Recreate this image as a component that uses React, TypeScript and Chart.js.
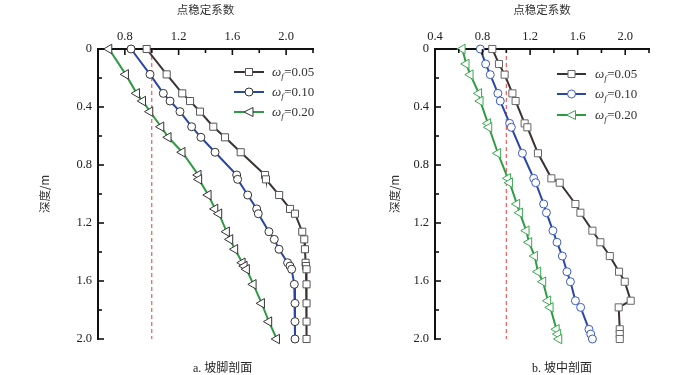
import React, { useEffect, useRef } from 'react';
import { Chart, registerables } from 'chart.js';

Chart.register(...registerables);

// ---------- data ----------
const seriesNames = ['0.05', '0.10', '0.20'];

// a. 坡脚剖面
const footDepth = [0, 0.175, 0.306, 0.359, 0.432, 0.536, 0.609, 0.712, 0.869, 0.899, 1.007, 1.103, 1.136, 1.26, 1.313, 1.381, 1.474, 1.497, 1.519, 1.623, 1.754, 1.88, 2.0];
const foot005 = [0.962, 1.111, 1.227, 1.285, 1.359, 1.458, 1.545, 1.662, 1.843, 1.85, 1.948, 2.029, 2.066, 2.12, 2.135, 2.14, 2.145, 2.148, 2.152, 2.152, 2.152, 2.152, 2.152];
const foot010 = [0.846, 0.987, 1.086, 1.136, 1.21, 1.297, 1.366, 1.471, 1.632, 1.639, 1.714, 1.781, 1.793, 1.872, 1.912, 1.947, 2.011, 2.029, 2.041, 2.061, 2.066, 2.066, 2.066];
const foot020 = [0.682, 0.806, 0.888, 0.933, 0.987, 1.069, 1.123, 1.227, 1.346, 1.351, 1.421, 1.471, 1.5, 1.557, 1.582, 1.619, 1.674, 1.689, 1.706, 1.756, 1.818, 1.872, 1.93];

// b. 坡中剖面
const midDepth = [0, 0.103, 0.177, 0.306, 0.359, 0.513, 0.54, 0.719, 0.892, 0.922, 1.069, 1.129, 1.253, 1.333, 1.428, 1.536, 1.605, 1.736, 1.782, 1.933, 1.966, 2.0];
const mid005 = [0.882, 0.938, 0.986, 1.051, 1.078, 1.154, 1.177, 1.266, 1.379, 1.449, 1.581, 1.623, 1.724, 1.791, 1.87, 1.948, 1.996, 2.046, 1.945, 1.954, 1.954, 1.954];
const mid010 = [0.781, 0.826, 0.865, 0.929, 0.949, 1.028, 1.042, 1.135, 1.23, 1.247, 1.314, 1.337, 1.392, 1.426, 1.471, 1.51, 1.539, 1.581, 1.625, 1.695, 1.71, 1.724];
const mid020 = [0.63, 0.663, 0.697, 0.769, 0.781, 0.845, 0.854, 0.929, 1.013, 1.028, 1.089, 1.112, 1.168, 1.19, 1.238, 1.266, 1.308, 1.35, 1.37, 1.421, 1.434, 1.443];

const criticalValue = [1.0];
const depthRange = [0, 2.0];
const xTitle = '点稳定系数';
const yTitle = '深度/m';
const captions = ['a. 坡脚剖面', 'b. 坡中剖面'];

// ---------- styles ----------
const LINE_COLORS = ['#3a3230', '#2a46a6', '#2f9c45'];
const REF_COLOR = '#ef5a5a';
const SERIF = "'Liberation Serif', 'Times New Roman', serif";
const CJK = "'Noto Sans CJK SC', sans-serif";

type PanelCfg = {
  depth: number[];
  values: number[][];
  xMin: number;
  xMax: number;
  padLeft: number;
  yWidth: number;
  padRight: number;
  markerBorders: string[];
  legend: { lineX0: number; lineX1: number; textX: number; rows: number[] };
};

function drawMarker(ctx: CanvasRenderingContext2D, kind: number, x: number, y: number, border: string) {
  ctx.save();
  ctx.fillStyle = '#fff';
  ctx.strokeStyle = border;
  ctx.lineWidth = 1;
  ctx.beginPath();
  if (kind === 0) {
    ctx.rect(x - 3.5, y - 3.5, 7, 7);
  } else if (kind === 1) {
    ctx.arc(x, y, 4, 0, Math.PI * 2);
  } else {
    ctx.moveTo(x - 5, y);
    ctx.lineTo(x + 4, y - 4.5);
    ctx.lineTo(x + 4, y + 4.5);
    ctx.closePath();
  }
  ctx.fill();
  ctx.stroke();
  ctx.restore();
}

const isMajor = (v: number) => Math.round(v * 10) % 4 === 0;

const inwardTicks = {
  id: 'inwardTicks',
  afterDraw(chart: any) {
    const ctx = chart.ctx as CanvasRenderingContext2D;
    const { left, top } = chart.chartArea;
    const xs = chart.scales.x;
    const ys = chart.scales.y;
    ctx.save();
    ctx.strokeStyle = '#111';
    ctx.lineWidth = 1.6;
    xs.ticks.forEach((t: any) => {
      const px = xs.getPixelForValue(t.value);
      if (px < left + 2) return;
      const len = isMajor(t.value) ? 6 : 4;
      ctx.beginPath();
      ctx.moveTo(px, top);
      ctx.lineTo(px, top + len);
      ctx.stroke();
    });
    ys.ticks.forEach((t: any) => {
      const py = ys.getPixelForValue(t.value);
      const len = isMajor(t.value) ? 6 : 4;
      ctx.beginPath();
      ctx.moveTo(left, py);
      ctx.lineTo(left + len, py);
      ctx.stroke();
    });
    ctx.restore();
  },
};

function legendPlugin(cfg: PanelCfg) {
  return {
    id: 'customLegend',
    afterDraw(chart: any) {
      const ctx = chart.ctx as CanvasRenderingContext2D;
      const L = cfg.legend;
      seriesNames.forEach((name, i) => {
        const y = L.rows[i];
        ctx.save();
        ctx.strokeStyle = LINE_COLORS[i];
        ctx.lineWidth = 2;
        ctx.beginPath();
        ctx.moveTo(L.lineX0, y);
        ctx.lineTo(L.lineX1, y);
        ctx.stroke();
        ctx.restore();
        drawMarker(ctx, i, (L.lineX0 + L.lineX1) / 2, y, cfg.markerBorders[i]);
        ctx.save();
        ctx.fillStyle = '#333';
        ctx.textBaseline = 'alphabetic';
        ctx.font = `italic 13px ${SERIF}`;
        let x = L.textX;
        ctx.fillText('ω', x, y + 4);
        x += ctx.measureText('ω').width;
        ctx.font = `italic 9px ${SERIF}`;
        ctx.fillText('f', x, y + 7);
        x += ctx.measureText('f').width + 0.5;
        ctx.font = `13px ${SERIF}`;
        ctx.fillText('=' + name, x, y + 4);
        ctx.restore();
      });
    },
  };
}

function buildConfig(cfg: PanelCfg): any {
  const pointStyles = ['rect', 'circle', 'triangle'];
  const radii = [5, 4, 5.5];
  const datasets: any[] = cfg.values.map((vals, i) => ({
    label: 'ωf=' + seriesNames[i],
    data: cfg.depth.map((d, j) => ({ x: vals[j], y: d })),
    borderColor: LINE_COLORS[i],
    borderWidth: 2,
    pointStyle: pointStyles[i],
    rotation: i === 2 ? -90 : 0,
    pointRadius: radii[i],
    pointBackgroundColor: '#fff',
    pointBorderColor: cfg.markerBorders[i],
    pointBorderWidth: 1,
    tension: 0,
    clip: false,
  }));
  datasets.push({
    label: 'Fs=1',
    data: depthRange.map((d) => ({ x: criticalValue[0], y: d })),
    borderColor: REF_COLOR,
    borderWidth: 1.2,
    borderDash: [4, 3],
    pointRadius: 0,
    clip: false,
  });

  return {
    type: 'line',
    data: { datasets },
    options: {
      responsive: false,
      animation: false,
      events: [],
      layout: { padding: { left: cfg.padLeft, top: 0, right: cfg.padRight, bottom: 36 } },
      plugins: { legend: { display: false }, tooltip: { enabled: false } },
      scales: {
        x: {
          type: 'linear',
          position: 'top',
          min: cfg.xMin,
          max: cfg.xMax,
          grid: { display: false, drawTicks: false },
          border: { display: true, color: '#111', width: 2 },
          ticks: {
            stepSize: 0.2,
            autoSkip: false,
            maxRotation: 0,
            padding: 5,
            color: '#222',
            font: { family: SERIF, size: 12.5 },
            callback: (v: number) => (isMajor(v) ? v.toFixed(1) : ''),
          },
          title: {
            display: true,
            text: xTitle,
            color: '#333',
            font: { family: CJK, size: 11.5 },
            padding: { top: 3, bottom: 0 },
          },
          afterFit: (s: any) => {
            s.height = 49;
          },
        },
        y: {
          type: 'linear',
          reverse: true,
          min: depthRange[0],
          max: depthRange[1],
          grid: { display: false, drawTicks: false },
          border: { display: true, color: '#111', width: 2 },
          ticks: {
            stepSize: 0.2,
            autoSkip: false,
            padding: 6,
            color: '#222',
            font: { family: SERIF, size: 12.5 },
            callback: (v: number) => (isMajor(v) ? (Math.abs(v) < 1e-9 ? '0' : v.toFixed(1)) : ''),
          },
          title: {
            display: true,
            text: yTitle,
            color: '#333',
            font: { family: CJK, size: 11.5 },
            padding: { top: 4, bottom: 0 },
          },
          afterFit: (s: any) => {
            s.width = cfg.yWidth;
          },
        },
      },
    },
    plugins: [inwardTicks, legendPlugin(cfg)],
  };
}

function Panel({ cfg }: { cfg: PanelCfg }) {
  const ref = useRef<HTMLCanvasElement>(null);
  useEffect(() => {
    const chart = new Chart(ref.current as HTMLCanvasElement, buildConfig(cfg));
    return () => chart.destroy();
  }, [cfg]);
  return <canvas ref={ref} width={350} height={375} style={{ display: 'block', width: 350, height: 375 }} />;
}

const footCfg: PanelCfg = {
  depth: footDepth,
  values: [foot005, foot010, foot020],
  xMin: 0.6,
  xMax: 2.2,
  padLeft: 34,
  yWidth: 64,
  padRight: 37,
  markerBorders: ['#555', '#333', '#333'],
  legend: { lineX0: 234, lineX1: 264, textX: 272, rows: [72, 92, 112] },
};

const midCfg: PanelCfg = {
  depth: midDepth,
  values: [mid005, mid010, mid020],
  xMin: 0.4,
  xMax: 2.2,
  padLeft: 34,
  yWidth: 51,
  padRight: 51,
  markerBorders: ['#666', '#3a5ac0', '#3aa850'],
  legend: { lineX0: 207, lineX1: 236, textX: 245, rows: [74, 94, 115] },
};

export default function App() {
  const captionStyle: React.CSSProperties = {
    position: 'absolute',
    top: 360,
    fontFamily: "'Liberation Serif', 'Noto Sans CJK SC', serif",
    fontSize: 12,
    lineHeight: '16px',
    color: '#222',
    whiteSpace: 'nowrap',
  };
  return (
    <div style={{ position: 'absolute', left: 0, top: 0, width: 700, height: 375, background: '#fff', overflow: 'hidden' }}>
      <div style={{ position: 'absolute', left: 0, top: 0 }}>
        <Panel cfg={footCfg} />
      </div>
      <div style={{ position: 'absolute', left: 350, top: 0 }}>
        <Panel cfg={midCfg} />
      </div>
      <div style={{ ...captionStyle, left: 193 }}>{captions[0]}</div>
      <div style={{ ...captionStyle, left: 532 }}>{captions[1]}</div>
    </div>
  );
}
